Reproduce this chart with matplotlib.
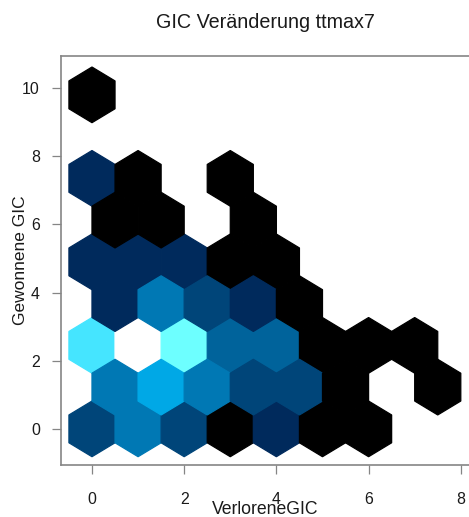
import numpy as np
import matplotlib
matplotlib.use("Agg")
import matplotlib.pyplot as plt
from matplotlib.colors import ListedColormap, BoundaryNorm

plt.rcParams["font.family"] = ["Liberation Sans", "DejaVu Sans"]

title = "GIC Veränderung ttmax7"
x_label = "VerloreneGIC"
y_label = "Gewonnene GIC"

# Hex cells: column centre (VerloreneGIC), hex row index, and count per cell
cell_col = [0, 1, 2, 3, 4, 5, 6,
            0.5, 1.5, 2.5, 3.5, 4.5, 5.5, 7.5,
            0, 1, 2, 3, 4, 5, 6, 7,
            0.5, 1.5, 2.5, 3.5, 4.5,
            0, 1, 2, 3, 4,
            0.5, 1.5, 3.5,
            0, 1, 3,
            0]
cell_row = [0, 0, 0, 0, 0, 0, 0,
            1, 1, 1, 1, 1, 1, 1,
            2, 2, 2, 2, 2, 2, 2, 2,
            3, 3, 3, 3, 3,
            4, 4, 4, 4, 4,
            5, 5, 5,
            6, 6, 6,
            8]
cell_count = [3, 5, 3, 1, 2, 1, 1,
              5, 6, 5, 3, 3, 1, 1,
              7, 9, 8, 4, 4, 1, 1, 1,
              2, 5, 3, 2, 1,
              2, 2, 2, 1, 1,
              1, 1, 1,
              2, 1, 1,
              1]

x_ticks = [0, 2, 4, 6, 8]
y_ticks = [0, 2, 4, 6, 8, 10]

# Blue-to-cyan ramp, one colour per count level
level_colors = ["#000000", "#002a5c", "#004579", "#00639b", "#0078b4",
                "#00a8e6", "#45e5ff", "#6dffff", "#ffffff"]

row_step = 1.225  # vertical distance between hex rows
n_cols, n_row_pairs = 8, 4

cmap = ListedColormap(level_colors)
norm = BoundaryNorm(np.arange(0.5, len(level_colors) + 1.0, 1.0), len(level_colors))

W, H = 469, 517
fig = plt.figure(figsize=(W / 100, H / 100), dpi=100)
ax_left, ax_right, ax_top, ax_bottom = 61, 469, 56, 465
ax = fig.add_axes([ax_left / W, (H - ax_bottom) / H,
                   (ax_right - ax_left) / W, (ax_bottom - ax_top) / H])

xs = np.asarray(cell_col, dtype=float)
ys = np.asarray(cell_row, dtype=float) * row_step
ax.hexbin(xs, ys, C=np.asarray(cell_count, dtype=float),
          reduce_C_function=np.sum,
          gridsize=(n_cols, n_row_pairs),
          extent=(0, n_cols, 0, n_row_pairs * 2 * row_step),
          cmap=cmap, norm=norm, edgecolors="face", linewidths=0.9)

ax.set_xlim(-0.672, 8.178)
ax.set_ylim(-1.06, 10.94)

spine_color = "#858585"
for side in ("left", "bottom", "top"):
    ax.spines[side].set_color(spine_color)
    ax.spines[side].set_linewidth(1.2)
ax.spines["right"].set_visible(False)

ax.set_xticks(x_ticks)
ax.set_yticks(y_ticks)
ax.tick_params(axis="both", direction="out", length=6.8, width=0.9,
               color=spine_color, labelsize=11.4, labelcolor="#1a1a1a")
ax.tick_params(axis="x", pad=13)
ax.tick_params(axis="y", pad=8.5)

ax.set_xlabel(x_label, fontsize=12.7, color="#1a1a1a", va="baseline")
ax.xaxis.set_label_coords(0.5, -(514 - ax_bottom) / (ax_bottom - ax_top))
ax.set_ylabel(y_label, fontsize=12.5, color="#1a1a1a", va="baseline")
ax.yaxis.set_label_coords(-(ax_left - 25) / (ax_right - ax_left), 0.5)

ax.set_title(title, fontsize=14.2, color="#1a1a1a", pad=0,
             y=(ax_bottom - 28) / (ax_bottom - ax_top), va="baseline")

fig.savefig("out.png", dpi=100)
